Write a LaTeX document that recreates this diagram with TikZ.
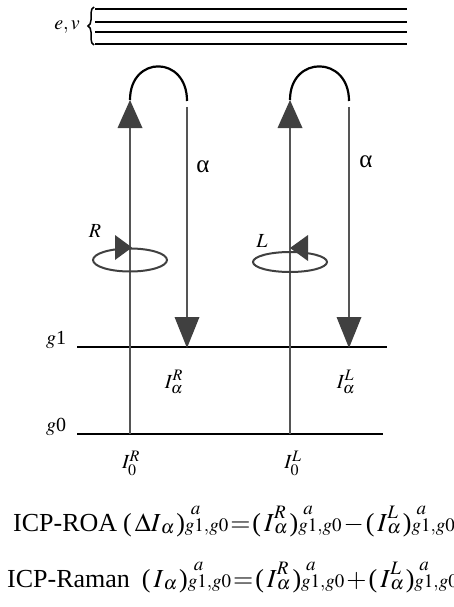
\documentclass[tikz,border=0pt]{standalone}
\usepackage{mathptmx}
\usepackage{fontspec}
\setmainfont{Liberation Serif}
\usetikzlibrary{decorations.pathreplacing,calc}
\DeclareMathSizes{26}{26}{19}{14}
\DeclareMathSizes{20}{20}{16}{12}
\definecolor{raygray}{HTML}{555555}
\definecolor{headgray}{HTML}{404040}
\newcommand{\scr}[1]{{\fontsize{19}{19}\selectfont$#1$}}
\newcommand{\ps}[1]{\makebox[0pt][l]{\hspace{#1}\raisebox{17pt}{\scr{a}}}\scr{g1{,}g0}}
\newcommand{\Ia}[1]{$I$\makebox[0pt][l]{\raisebox{13pt}{\scr{#1}}}\raisebox{-2pt}{\scr{\alpha}}}
\begin{document}
\begin{tikzpicture}[x=1pt,y=-1pt,
  level/.style={line width=2.8pt,black},
  ray/.style={line width=2.2pt,raygray},
  head/.style={fill=headgray,draw=none},
  loopline/.style={line width=2.2pt,black},
  pol/.style={line width=2pt,headgray},
  lab/.style={font=\fontsize{20}{24}\selectfont,inner sep=0pt},
  alab/.style={font=\fontsize{25}{28}\selectfont,inner sep=0pt},
  eq/.style={font=\fontsize{26}{30}\selectfont,inner sep=0pt}]
\useasboundingbox (0,0) rectangle (454,607);
% electronic-vibrational manifold
\foreach \yy in {9,22,32,44}{\draw[level] (95,\yy) -- (407,\yy);}
\coordinate (brB) at (94,45);
\coordinate (brT) at (94,7);
\draw[line width=1.5pt,decorate,decoration={brace,amplitude=6pt}] (brB) -- (brT);
\node[lab] (ev) at (67,27) {$e,v$};
% ground levels
\coordinate (g1a) at (77,347); \coordinate (g1b) at (387,347);
\coordinate (g0a) at (77,434); \coordinate (g0b) at (383,434);
\draw[level] (g1a) -- (g1b);
\draw[level] (g0a) -- (g0b);
\node[lab] (g1lab) at (56,340) {$g$1};
\node[lab] (g0lab) at (56,427) {$g$0};
% coordinates of the rays
\coordinate (RupB) at (130,434); \coordinate (RupH) at (130,128); \coordinate (RupT) at (130,100);
\coordinate (RdnT) at (187,107); \coordinate (RdnH) at (187,317); \coordinate (RdnB) at (187,348);
\coordinate (LupB) at (290,434); \coordinate (LupH) at (290,128); \coordinate (LupT) at (290,100);
\coordinate (LdnT) at (349,107); \coordinate (LdnH) at (349,317); \coordinate (LdnB) at (349,348);
% rays
\draw[ray] (RupB) -- (RupH);
\draw[ray] (RdnT) -- (RdnH);
\draw[ray] (LupB) -- (LupH);
\draw[ray] (LdnT) -- (LdnH);
% arrow heads
\fill[head] (RupT) -- ($(RupH)+(-12.5,0)$) -- ($(RupH)+(12.5,0)$) -- cycle;
\fill[head] (LupT) -- ($(LupH)+(-12.5,0)$) -- ($(LupH)+(12.5,0)$) -- cycle;
\fill[head] (RdnB) -- ($(RdnH)+(-12.5,0)$) -- ($(RdnH)+(12.5,0)$) -- cycle;
\fill[head] (LdnB) -- ($(LdnH)+(-12.5,0)$) -- ($(LdnH)+(12.5,0)$) -- cycle;
% loops
\draw[loopline] (RupT) .. controls (130,55) and (187,55) .. (187,101);
\draw[loopline] (LupT) .. controls (290,55) and (349,55) .. (349,101);
% polarisation
\draw[pol] (130,260) ellipse [x radius=37pt,y radius=11.5pt];
\draw[pol] (290,262) ellipse [x radius=37pt,y radius=10pt];
\fill[head] (115,235) -- (115,260) -- (132,247.5) -- cycle;
\fill[head] (308,235) -- (308,261) -- (290,248) -- cycle;
\node[lab] (Rlab) at (95,231) {$R$};
\node[lab] (Llab) at (262,241) {$L$};
\node[alab] (al1) at (203,167) {α};
\node[alab] (al2) at (366,162) {α};
% intensities
\node[lab] (IaR) at (174,382) {$I_\alpha^R$};
\node[lab] (IaL) at (346,382) {$I_\alpha^L$};
\node[lab] (I0R) at (131,463) {$I_0^R$};
\node[lab] (I0L) at (293,463) {$I_0^L$};
% equations
\node[eq,anchor=base west] (roa) at (13,531)
 {ICP-ROA\hspace{6pt}(\hspace{3pt}$\Delta I$\raisebox{-2pt}{\scr{\alpha}}\hspace{2pt})\ps{6pt}\hspace{2pt}$=$\hspace{2pt}(\hspace{3pt}\Ia{R}\hspace{2pt})\ps{5pt}\hspace{2pt}$-$\hspace{2pt}(\hspace{3pt}\Ia{L}\hspace{2pt})\ps{5pt}};
\node[eq,anchor=base west] (raman) at (7,587)
 {ICP-Raman\hspace{12pt}(\hspace{3pt}$I$\raisebox{-2pt}{\scr{\alpha}}\hspace{2pt})\ps{6pt}\hspace{2pt}$=$\hspace{2pt}(\hspace{3pt}\Ia{R}\hspace{2pt})\ps{5pt}\hspace{2pt}$+$\hspace{2pt}(\hspace{3pt}\Ia{L}\hspace{2pt})\ps{5pt}};
\end{tikzpicture}
\end{document}
